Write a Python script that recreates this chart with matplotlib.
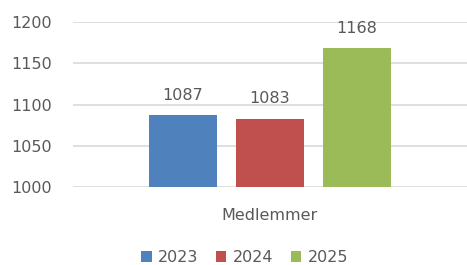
import matplotlib as mpl
import matplotlib.pyplot as plt
import numpy as np

mpl.rcParams.update({
    "font.family": ["DejaVu Sans"],
    "font.size": 11.5,
})

categories = ["Medlemmer"]
years = ["2023", "2024", "2025"]
values = [1087, 1083, 1168]
colors = ["#4F81BD", "#C0504D", "#9BBB59"]

fig = plt.figure(figsize=(4.67, 2.65), dpi=100)
ax = fig.add_axes([0.156, 0.294, 0.844, 0.623])

offsets = np.arange(len(years)) - (len(years) - 1) / 2
bar_w = 0.79
for off, yr, val, col in zip(offsets, years, values, colors):
    bars = ax.bar(off, val, bar_w, color=col, label=yr, zorder=3)
    ax.bar_label(bars, labels=[str(val)], padding=9, fontsize=11.5, color="#595959")

ax.set_ylim(1000, 1200)
ax.set_yticks(np.arange(1000, 1201, 50))
ax.set_xlim(-2.265, 2.265)
ax.set_xticks([0])
ax.set_xticklabels(categories)
ax.tick_params(axis="both", length=0, colors="#595959", labelsize=11.5)
ax.tick_params(axis="x", pad=15)
ax.tick_params(axis="y", pad=15)
ax.grid(axis="y", color="#D9D9D9", linewidth=1.2, zorder=0)
for s in ax.spines.values():
    s.set_visible(False)

fig.legend(loc="lower center", bbox_to_anchor=(0.524, -0.055), ncol=3,
           frameon=False, fontsize=11.5, handlelength=0.65, handleheight=0.65,
           handletextpad=0.4, columnspacing=1.1, labelcolor="#595959")

fig.savefig("out.png", dpi=100)
